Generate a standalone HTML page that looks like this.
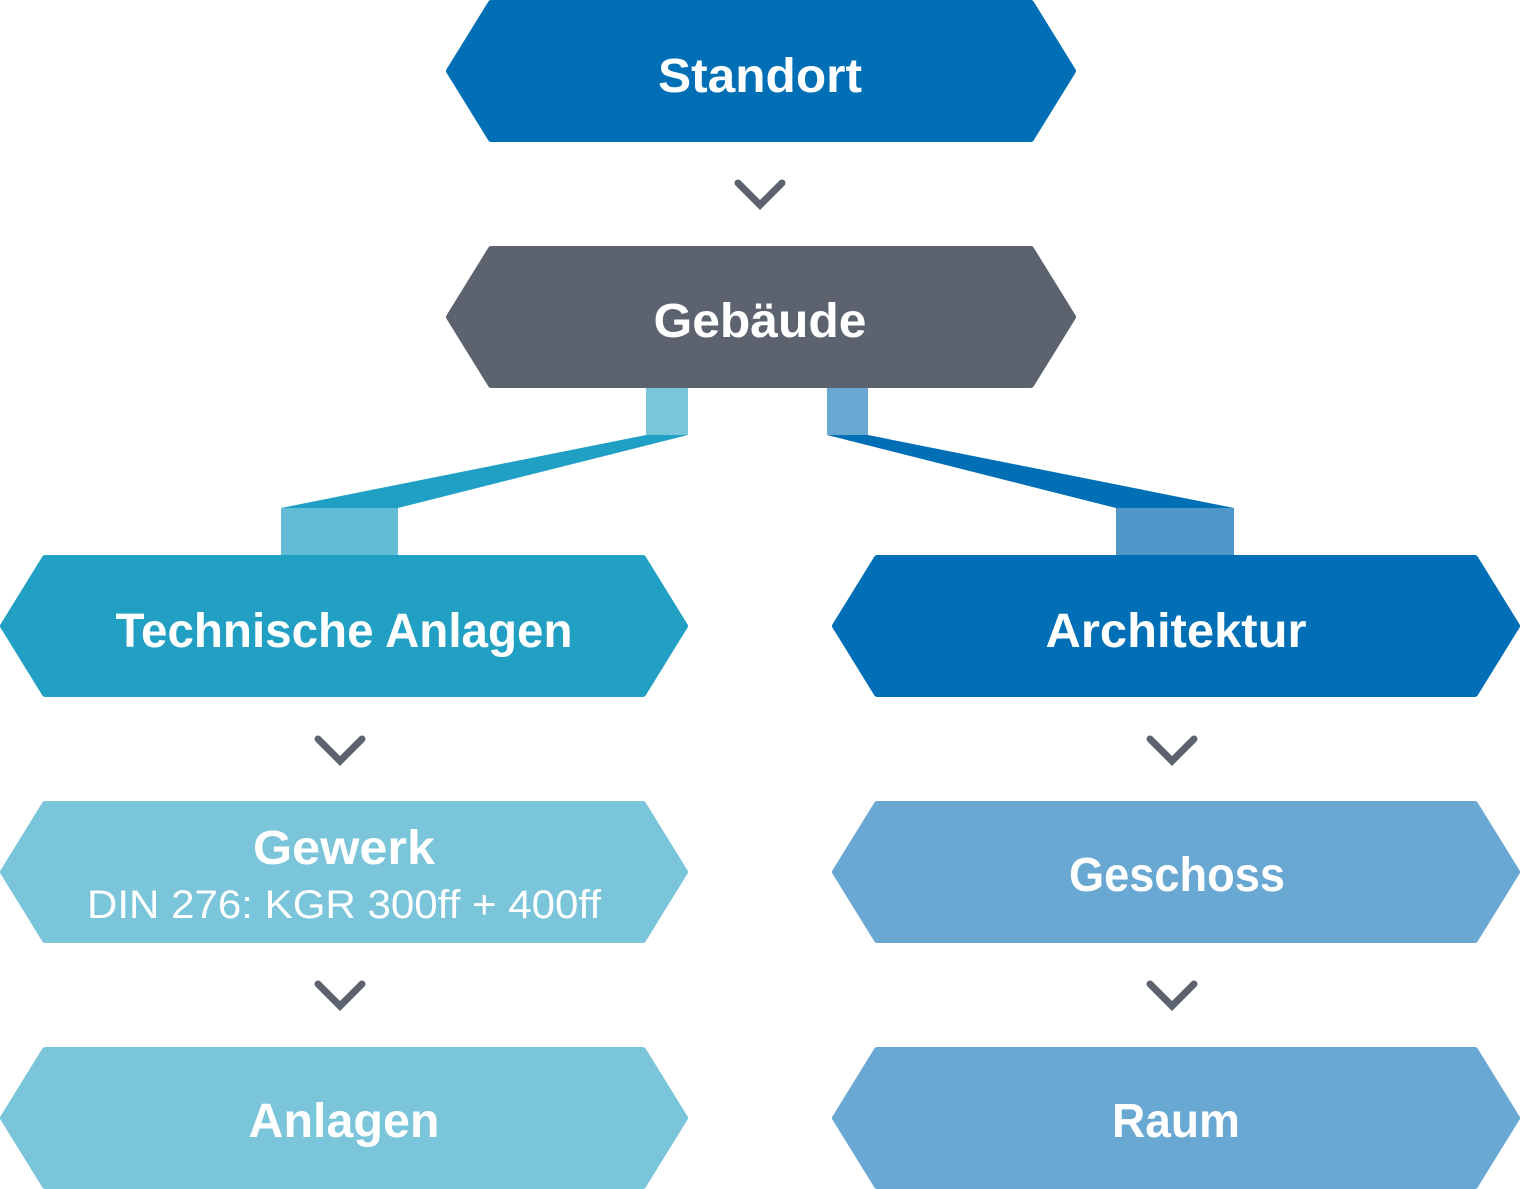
<!DOCTYPE html>
<html><head><meta charset="utf-8"><style>
html,body{margin:0;padding:0;background:#fff;}
svg{display:block;}
text{font-family:"Liberation Sans",sans-serif;fill:#fff;text-anchor:middle;}
.b{font-weight:bold;font-size:48px;}
.r{font-size:40px;}
</style></head><body>
<svg width="1520" height="1189" viewBox="0 0 1520 1189" xmlns="http://www.w3.org/2000/svg">
<g stroke-linejoin="round" stroke-width="6">
<polygon points="491,3 1031,3 1073,71 1031,139 491,139 449,71" fill="#016fb5" stroke="#016fb5"/>
<polygon points="491,249 1031,249 1073,317 1031,385 491,385 449,317" fill="#5c636f" stroke="#5c636f"/>
<polygon points="45,558 643,558 685,626 643,694 45,694 3,626" fill="#21a0c4" stroke="#21a0c4"/>
<polygon points="877,558 1475,558 1517,626 1475,694 877,694 835,626" fill="#016fb5" stroke="#016fb5"/>
<polygon points="45,804 643,804 685,872 643,940 45,940 3,872" fill="#7bc5db" stroke="#7bc5db"/>
<polygon points="877,804 1475,804 1517,872 1475,940 877,940 835,872" fill="#68a8d3" stroke="#68a8d3"/>
<polygon points="45,1050 643,1050 685,1118 643,1186 45,1186 3,1118" fill="#7bc5db" stroke="#7bc5db"/>
<polygon points="877,1050 1475,1050 1517,1118 1475,1186 877,1186 835,1118" fill="#68a8d3" stroke="#68a8d3"/>
</g>
<rect x="646" y="388" width="42" height="47" fill="#7bc5db"/>
<polygon points="646,435 688,435 398,508 281,508" fill="#20a0c4"/>
<rect x="281" y="508" width="117" height="47" fill="#62bcd6"/>
<rect x="827" y="388" width="41" height="47" fill="#68a8d3"/>
<polygon points="827,435 868,435 1234,508 1116,508" fill="#016fb5"/>
<rect x="1116" y="508" width="118" height="47" fill="#5097c9"/>
<g fill="none" stroke="#5c636f" stroke-width="7" stroke-linecap="round" stroke-linejoin="miter">
<polyline points="738,183 760,205 782,183"/>
<polyline points="318,739 340,761 362,739"/>
<polyline points="1150,739 1172,761 1194,739"/>
<polyline points="318,984 340,1006 362,984"/>
<polyline points="1150,984 1172,1006 1194,984"/>
</g>
<text class="b" x="760" y="92" textLength="204" lengthAdjust="spacingAndGlyphs">Standort</text>
<text class="b" x="760" y="337" textLength="213" lengthAdjust="spacingAndGlyphs">Gebäude</text>
<text class="b" x="344" y="647" textLength="457" lengthAdjust="spacingAndGlyphs">Technische Anlagen</text>
<text class="b" x="1176" y="647" textLength="261" lengthAdjust="spacingAndGlyphs">Architektur</text>
<text class="b" x="344" y="864" textLength="182" lengthAdjust="spacingAndGlyphs">Gewerk</text>
<text class="r" x="344" y="918" textLength="514" lengthAdjust="spacingAndGlyphs">DIN 276: KGR 300ff + 400ff</text>
<text class="b" x="1177" y="891" textLength="216" lengthAdjust="spacingAndGlyphs">Geschoss</text>
<text class="b" x="344" y="1137" textLength="191" lengthAdjust="spacingAndGlyphs">Anlagen</text>
<text class="b" x="1176" y="1137" textLength="128" lengthAdjust="spacingAndGlyphs">Raum</text>
</svg>
</body></html>
